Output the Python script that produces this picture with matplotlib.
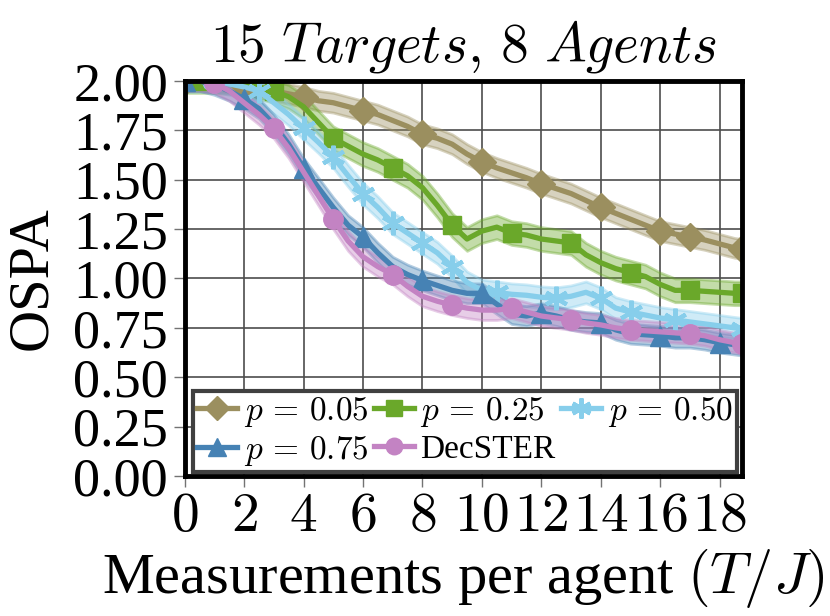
import numpy as np
import matplotlib
matplotlib.use("Agg")
import matplotlib.pyplot as plt
from matplotlib.ticker import FuncFormatter, FormatStrFormatter

# ── Fonts: Times-like text, Computer Modern maths ───────────────────────────
plt.rcParams["font.family"] = ["Liberation Serif", "DejaVu Serif"]
plt.rcParams["mathtext.fontset"] = "cm"

# ── Data ────────────────────────────────────────────────────────────────────
MEAS_PER_AGENT = [0, 0.5, 1, 1.5, 2, 2.5, 3, 3.5, 4, 4.5, 5, 5.5, 6, 6.5, 7, 7.5,
                  8, 8.5, 9, 9.5, 10, 10.5, 11, 11.5, 12, 12.5, 13, 13.5, 14,
                  14.5, 15, 15.5, 16, 16.5, 17, 17.5, 18, 18.5, 18.75]

OSPA_P005 = [2.00, 2.00, 1.995, 1.99, 1.98, 1.97, 1.95, 1.935, 1.92, 1.90, 1.89,
             1.87, 1.85, 1.83, 1.80, 1.77, 1.73, 1.71, 1.68, 1.63, 1.59, 1.56,
             1.535, 1.51, 1.48, 1.455, 1.43, 1.395, 1.36, 1.33, 1.30, 1.27, 1.24,
             1.225, 1.21, 1.195, 1.175, 1.155, 1.15]
OSPA_P025 = [2.00, 2.00, 2.00, 1.995, 1.985, 1.97, 1.95, 1.92, 1.87, 1.79, 1.71,
             1.67, 1.63, 1.60, 1.56, 1.52, 1.46, 1.37, 1.27, 1.20, 1.24, 1.26,
             1.23, 1.22, 1.20, 1.19, 1.18, 1.12, 1.08, 1.05, 1.03, 1.01, 0.97,
             0.94, 0.94, 0.935, 0.93, 0.925, 0.925]
OSPA_P050 = [2.00, 2.00, 2.00, 1.985, 1.97, 1.95, 1.89, 1.83, 1.76, 1.69, 1.615,
             1.52, 1.43, 1.36, 1.28, 1.23, 1.18, 1.13, 1.06, 0.98, 0.94, 0.93,
             0.92, 0.915, 0.905, 0.90, 0.91, 0.93, 0.90, 0.85, 0.83, 0.815, 0.80,
             0.79, 0.78, 0.77, 0.76, 0.75, 0.745]
OSPA_P075 = [2.00, 2.00, 1.98, 1.95, 1.91, 1.86, 1.78, 1.68, 1.56, 1.46, 1.36,
             1.27, 1.21, 1.13, 1.06, 1.02, 0.99, 0.965, 0.94, 0.925, 0.925, 0.87,
             0.82, 0.81, 0.825, 0.81, 0.79, 0.78, 0.775, 0.74, 0.72, 0.715, 0.71,
             0.70, 0.70, 0.69, 0.675, 0.665, 0.66]
OSPA_DECSTER = [2.00, 2.00, 1.99, 1.95, 1.89, 1.83, 1.76, 1.66, 1.54, 1.42, 1.30,
                1.19, 1.11, 1.06, 1.02, 0.96, 0.91, 0.885, 0.865, 0.85, 0.84, 0.84,
                0.85, 0.83, 0.81, 0.80, 0.79, 0.775, 0.765, 0.75, 0.74, 0.735, 0.73,
                0.725, 0.72, 0.71, 0.69, 0.675, 0.67]

# half-width of the shaded band around each curve
SPREAD = [0.05, 0.06, 0.055, 0.05, 0.05]

LABELS = [r"$p\,=\,0.05$", r"$p\,=\,0.25$", r"$p\,=\,0.50$", r"$p\,=\,0.75$",
          "DecSTER"]
X_TICKS = [0, 2, 4, 6, 8, 10, 12, 14, 16, 18]
Y_TICKS = [0.0, 0.25, 0.5, 0.75, 1.0, 1.25, 1.5, 1.75, 2.0]

# ── Styles ───────────────────────────────────────────────────────────────────
COLORS = ["#9b8f5f", "#6aa82a", "#87ceeb", "#4682b4", "#c383c3"]
MARKERS = ["D", "s", (6, 2, 0), "^", "o"]
MSIZE = [14, 13, 17, 15, 14]
MARK_IDX = [
    [0, 4, 8, 12, 16, 20, 24, 28, 32, 34, 38],
    [1, 6, 10, 14, 18, 22, 26, 30, 34, 38],
    [2, 5, 8, 10, 12, 14, 16, 18, 21, 25, 28, 30, 33, 38],
    [0, 4, 8, 12, 16, 20, 24, 28, 32, 36],
    [2, 6, 10, 14, 18, 22, 26, 30, 34, 38],
]

series = [OSPA_P005, OSPA_P025, OSPA_P050, OSPA_P075, OSPA_DECSTER]
x = np.array(MEAS_PER_AGENT)

fig = plt.figure(figsize=(8.3, 6.16), dpi=100)
ax = fig.add_axes([0.2224, 0.2273, 0.6716, 0.6412])

handles = []
for y, s, c, m, ms, idx, lab in zip(series, SPREAD, COLORS, MARKERS, MSIZE,
                                     MARK_IDX, LABELS):
    y = np.array(y)
    ax.fill_between(x, y - s, np.minimum(y + s, 2.0), color=c, alpha=0.4,
                    linewidth=2, edgecolor=c, zorder=2)
    mew = 3 if m == (6, 2, 0) else 1
    h, = ax.plot(x, y, color=c, lw=3.8, marker=m, markersize=ms,
                 markevery=idx, markeredgecolor=c, markeredgewidth=mew,
                 label=lab, zorder=3)
    handles.append(h)

ax.set_xlim(0, 18.75)
ax.set_ylim(0, 2.0)
ax.set_xticks(X_TICKS)
ax.set_yticks(Y_TICKS)
ax.xaxis.set_major_formatter(FuncFormatter(lambda v, p: f"${int(v)}$"))
ax.yaxis.set_major_formatter(FormatStrFormatter("%.2f"))
ax.tick_params(axis="x", labelsize=40, length=8, width=1, color="0.45", pad=3)
ax.tick_params(axis="y", labelsize=39, length=8, width=1, color="0.45", pad=4)

ax.grid(True, color="0.3", lw=1.2, zorder=0)
ax.set_axisbelow(True)
for sp in ax.spines.values():
    sp.set_linewidth(3.5)
    sp.set_color("black")
    sp.set_zorder(5)

ax.set_title(r"$15\ Targets,\, 8\ Agents$", fontsize=40, pad=14)
ax.set_ylabel("OSPA", fontsize=42, labelpad=11)
ax.set_xlabel(r"Measurements per agent $(T/J)$", fontsize=42, labelpad=2)

# row-wise legend order for 3 columns
order = [0, 3, 1, 4, 2]
leg = ax.legend([handles[i] for i in order], [LABELS[i] for i in order],
                ncol=3, loc="lower left", bbox_to_anchor=(0.015, 0.01, 0.976, 0.2),
                mode="expand", fontsize=24, fancybox=False, framealpha=1,
                edgecolor="#404040", handlelength=1.2, handletextpad=0.2,
                columnspacing=0.3, borderpad=0.12, labelspacing=0.15,
                markerscale=0.85, borderaxespad=0)
leg.get_frame().set_linewidth(3)
leg.set_zorder(6)

fig.savefig("out.png", dpi=100)
